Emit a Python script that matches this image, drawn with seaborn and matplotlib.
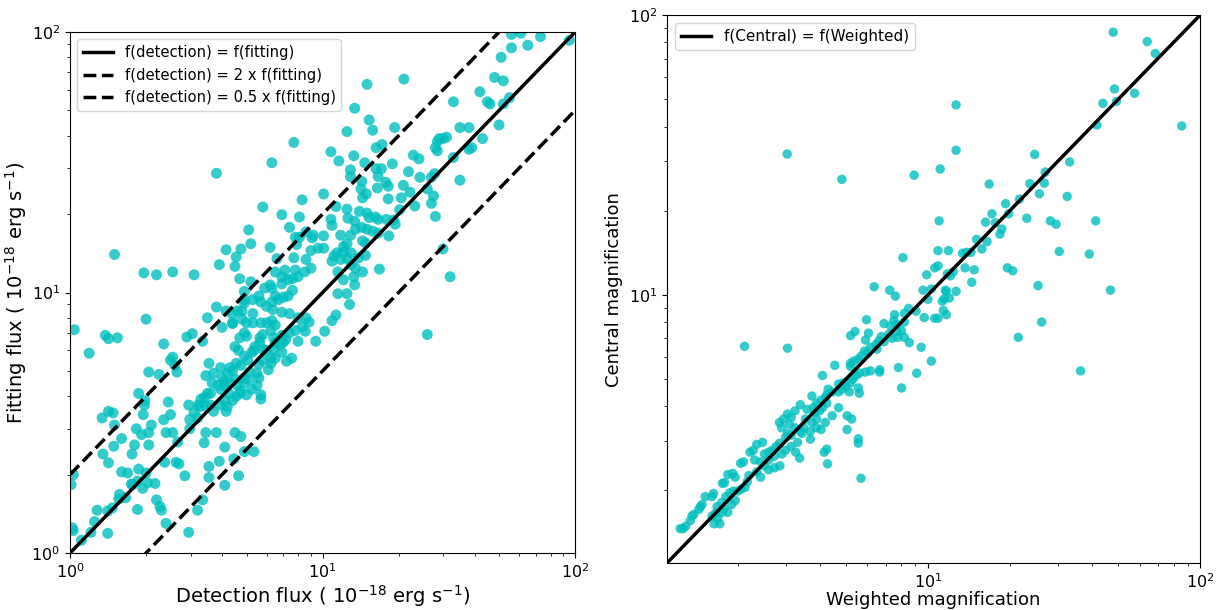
import matplotlib
matplotlib.use("Agg")
import matplotlib.pyplot as plt
import pandas as pd
import seaborn as sns

# ---------------- Left panel data ----------------
detection_flux = [
    56, 61, 73, 65, 95, 56, 51, 52, 48, 42,
    45, 46, 52, 55, 33, 50, 43, 35, 38, 38,
    39, 33, 35, 28.5, 29, 30, 31, 28, 28.5, 27.8,
    27, 26, 27.5, 27, 28, 30, 32, 26, 21, 15,
    13.4, 12.5, 15.3, 15.8, 19.3, 16.3, 17.2, 10.8, 13.3, 11.6,
    7.7, 6.3, 3.8, 12.9, 18.9, 21.9, 22.9, 24.1, 24.3, 20.9,
    22.2, 23.2, 20.2, 20.5, 14.9, 14.7, 16.3, 16.6, 17.1, 18.2,
    17.8, 16.5, 12.9, 14.3, 14.2, 14.4, 14.0, 15.0, 15.3, 16.2,
    16.6, 17.9, 19.1, 18.3, 19.4, 18.2, 10.1, 8.3, 5.8, 6.9,
    8.1, 7.4, 7.8, 11.3, 10.8, 10.9, 12.5, 11.8, 12.9, 12.6,
    13.4, 14.3, 15.0, 13.5, 14.4, 15.8, 16.6, 14.8, 14.8, 12.5,
    12.1, 13.0, 12.1, 11.4, 11.1, 10.9, 11.8, 11.5, 12.5, 13.0,
    13.5, 14.4, 16.8, 13.9, 13.3, 13.4, 12.8, 12.1, 12.5, 11.5,
    11.3, 10.9, 10.2, 9.4, 10.1, 10.1, 9.6, 9.2, 9.1, 8.6,
    8.1, 7.9, 8.6, 9.0, 7.7, 7.8, 9.0, 8.5, 8.0, 7.6,
    7.1, 6.9, 6.5, 6.2, 6.6, 6.9, 7.3, 7.6, 7.3, 7.0,
    6.7, 6.5, 6.3, 6.35, 6.0, 5.9, 6.3, 6.2, 5.7, 5.6,
    5.2, 5.3, 4.9, 4.9, 5.3, 4.8, 4.8, 4.6, 4.4, 5.0,
    5.3, 5.7, 6.0, 6.3, 6.5, 6.9, 7.4, 8.0, 8.6, 8.85,
    8.3, 7.8, 7.4, 6.9, 6.8, 7.0, 7.15, 6.25, 6.4, 6.5,
    6.8, 6.4, 6.5, 6.9, 7.55, 7.2, 8.0, 8.55, 5.8, 5.65,
    5.65, 5.4, 5.25, 5.0, 4.9, 4.7, 4.5, 4.65, 4.9, 5.05,
    5.35, 5.8, 6.0, 6.25, 6.25, 6.1, 5.8, 5.6, 5.5, 5.5,
    5.25, 5.15, 4.9, 4.75, 4.55, 4.4, 4.3, 4.2, 4.0, 3.95,
    4.1, 4.3, 4.5, 4.6, 4.9, 5.1, 5.6, 5.7, 5.7, 5.0,
    4.7, 4.25, 4.1, 3.95, 3.7, 3.55, 3.45, 3.65, 3.85, 3.6,
    3.5, 3.4, 3.3, 3.25, 3.45, 3.6, 3.7, 3.95, 4.1, 4.4,
    4.55, 4.75, 4.2, 4.15, 2.95, 3.2, 3.45, 3.8, 4.5, 4.75,
    3.4, 4.1, 4.45, 3.55, 3.9, 3.55, 4.65, 4.1, 3.35, 3.2,
    2.95, 2.85, 2.7, 5.35, 4.9, 1.5, 1.96, 2.2, 2.55, 3.1,
    3.9, 4.15, 4.5, 4.55, 4.75, 5.2, 5.1, 4.7, 4.9, 3.8,
    4.15, 4.4, 4.4, 4.0, 3.5, 3.35, 3.05, 2.9, 2.35, 2.55,
    2.6, 2.5, 2.65, 2.25, 2.05, 2.0, 1.38, 1.42, 1.54, 1.04,
    1.19, 1.87, 1.98, 1.97, 1.95, 2.45, 2.35, 2.5, 2.4, 2.55,
    2.1, 2.05, 1.92, 1.83, 1.8, 1.76, 2.05, 1.5, 1.6, 1.34,
    1.42, 1.48, 1.49, 1.35, 1.42, 1.6, 1.69, 1.87, 2.0, 2.03,
    1.94, 2.17, 2.37, 2.63, 1.75, 1.85, 1.85, 2.2, 2.27, 2.3, 2.4,
    2.67, 1.47, 1.41, 1.28, 1.25, 1.21, 1.11, 1.03, 1.02,
    1.01, 1.03, 1.41, 1.56, 1.66, 1.57, 1.77, 2.98, 2.98, 3.1, 3.22,
]
fitting_flux = [
    98, 99, 96, 89, 93, 87, 80, 65, 67, 59,
    54, 53, 53, 56, 54, 44, 39, 43, 43, 35.5,
    36, 33, 27, 38, 39, 39, 39.5, 36, 35, 28.6,
    27.7, 25, 23.5, 22, 19.6, 14.7, 11.5, 6.9, 66, 63,
    51, 41.5, 46, 42, 43, 36, 37, 34.7, 33.5, 32,
    37.7, 31.5, 28.7, 29.6, 31.2, 29.1, 33.7, 32.6, 27.7, 25.8,
    24.3, 21.5, 20.8, 23.1, 23.9, 31.5, 29.9, 27.9, 29.9, 25.6,
    26.5, 25.2, 27.9, 26.7, 25, 23.1, 20.5, 20.2, 19.4, 19.5,
    19.1, 19.1, 19.0, 16.5, 18.3, 22.9, 23.9, 22.7, 21.3, 19.9,
    19.5, 17.8, 16.3, 21.4, 19.1, 18.1, 20.9, 16.6, 16.6, 19.3,
    18.8, 17.8, 17.5, 17.5, 15.8, 17.2, 16.9, 15.5, 13.9, 15.4,
    15.0, 14.2, 14.3, 14.2, 13.8, 13.2, 13.4, 12.0, 13.5, 12.8,
    12.4, 12.0, 12.3, 13.6, 11.5, 10.7, 9.0, 11.2, 9.9, 9.9,
    8.2, 7.8, 7.1, 6.5, 16.5, 14.8, 14.8, 16.6, 16.2, 17.1,
    16.3, 15.3, 13.4, 14.5, 13.6, 12.2, 12.4, 12.0, 11.5, 11.3,
    12.2, 11.5, 12.0, 14.9, 13.5, 10.8, 11.2, 10.2, 9.7, 9.6,
    9.4, 9.7, 9.2, 8.6, 8.85, 10.4, 10.4, 10.7, 9.2, 9.7,
    11.0, 9.4, 9.4, 9.1, 8.3, 8.5, 7.9, 8.5, 7.65, 7.65,
    7.65, 7.65, 7.65, 7.8, 7.5, 8.4, 8.3, 8.0, 8.0, 7.7,
    7.4, 7.15, 7.0, 6.85, 6.55, 6.45, 6.6, 7.15, 6.7, 6.4,
    6.3, 6.05, 5.6, 5.9, 5.6, 5.45, 6.5, 7.1, 6.9, 6.7,
    6.45, 6.2, 5.9, 6.8, 7.0, 6.7, 6.2, 6.0, 5.7, 5.5,
    6.0, 6.05, 6.0, 5.6, 5.35, 5.05, 5.5, 5.3, 4.9, 4.4,
    4.25, 4.95, 4.7, 5.25, 5.35, 5.0, 5.15, 4.9, 4.7, 5.15,
    4.55, 4.5, 4.65, 4.4, 4.5, 4.65, 4.7, 4.05, 3.9, 4.05,
    4.1, 4.1, 4.4, 4.25, 4.9, 5.35, 4.8, 4.5, 4.4, 4.1,
    4.1, 3.95, 3.9, 3.65, 3.65, 3.7, 3.5, 3.7, 3.85, 3.85,
    4.0, 4.2, 3.65, 3.5, 3.7, 3.3, 2.9, 2.9, 2.9, 2.8,
    2.65, 2.55, 2.3, 2.15, 2.25, 1.95, 1.98, 1.82, 1.6, 1.46,
    1.2, 1.98, 2.2, 2.45, 2.45, 14.0, 11.9, 11.7, 12.0, 11.7,
    12.8, 14.6, 12.6, 13.7, 14.7, 15.4, 17.4, 11.3, 10.1, 8.8,
    8.5, 8.25, 7.6, 7.35, 8.0, 6.5, 6.95, 6.75, 6.35, 5.65,
    5.25, 5.5, 4.95, 4.85, 4.95, 7.9, 6.85, 6.65, 6.7, 7.2,
    5.85, 4.1, 3.85, 3.7, 3.4, 3.8, 3.25, 3.4, 2.9, 2.9,
    3.1, 2.9, 2.85, 3.0, 2.6, 2.4, 2.6, 3.1, 2.75, 3.3,
    3.5, 3.45, 2.57, 2.4, 2.22, 2.05, 2.03, 2.1, 2.03, 1.86,
    1.77, 1.85, 2.23, 2.23, 1.84, 1.89, 1.47, 1.6, 1.51, 1.46, 1.3,
    2.67, 1.49, 1.45, 1.46, 1.32, 1.2, 1.12, 1.22, 1.25,
    1.83, 2.0, 1.19, 1.61, 1.63, 1.68, 1.83, 3.0, 3.26, 3.47, 3.7,
]

# ---------------- Right panel data ----------------
weighted_mag = [
    48, 64, 68.5, 48.5, 57.5, 44, 49.3, 41.8, 85.7, 12.7,
    12.7, 3.04, 4.83, 8.9, 11.1, 24.7, 33.2, 27.0, 16.8, 23.7,
    26.8, 25.7, 32.5, 21.7, 19.3, 19.8, 17.2, 23.1, 11.0, 16.3,
    17.7, 28.2, 29.6, 41.4, 18.7, 18.4, 15.1, 16.5, 15.8, 30.4,
    39.2, 10.9, 11.9, 13.4, 13.9, 14.4, 8.1, 13.7, 14.8, 19.6,
    20.5, 10.6, 10.9, 9.9, 14.5, 12.4, 11.8, 12.1, 6.35, 7.24,
    7.6, 9.6, 10.3, 11.6, 11.7, 12.7, 11.5, 12.0, 11.3, 10.0,
    25.4, 46.9, 8.5, 8.2, 7.55, 9.05, 9.7, 10.6, 10.9, 11.7,
    11.4, 7.5, 7.7, 8.2, 5.95, 6.9, 26.2, 7.3, 7.7, 8.0,
    7.2, 5.4, 5.2, 6.05, 6.75, 6.9, 6.6, 6.45, 6.15, 6.5,
    7.4, 7.75, 8.2, 8.55, 9.45, 21.5, 2.12, 3.05, 5.9, 5.85,
    6.0, 5.7, 5.55, 5.35, 5.2, 5.2, 10.3, 6.65, 6.65, 6.15,
    5.9, 5.6, 5.45, 5.3, 5.2, 5.0, 4.85, 4.9, 4.7, 4.55,
    4.1, 7.8, 9.1, 8.0, 36.4, 5.55, 5.6, 5.15, 4.7, 4.45,
    4.3, 4.25, 4.2, 4.05, 3.9, 3.8, 3.75, 4.0, 4.1, 4.25,
    4.7, 4.45, 4.2, 4.05, 3.75, 3.55, 3.4, 3.25, 3.15, 3.05,
    2.95, 2.85, 2.9, 3.1, 3.25, 3.4, 3.5, 3.6, 3.85, 3.9,
    5.05, 5.25, 5.05, 3.9, 3.7, 3.7, 3.45, 3.15, 3.05, 3.0,
    2.85, 2.77, 2.68, 2.6, 2.51, 2.47, 2.35, 2.28, 2.22, 2.31,
    2.43, 2.6, 2.73, 2.91, 3.0, 3.14, 3.27, 3.38, 3.32, 5.55,
    5.55, 4.25, 4.16, 4.28, 5.68, 2.86, 2.73, 2.6, 2.51, 2.43,
    2.35, 2.2, 2.1, 2.05, 1.96, 1.92, 1.84, 1.79, 1.76, 2.17,
    2.13, 2.06, 2.0, 1.93, 1.87, 1.81, 1.75, 1.9, 1.96, 1.84,
    1.75, 1.68, 1.63, 1.61, 1.52, 1.48, 1.46, 1.44, 1.38, 1.36,
    1.34, 1.29, 1.26, 1.23, 1.64, 1.72, 1.69, 1.61, 1.66, 1.78,
]
central_mag = [
    87, 80.5, 73, 54.5, 52.6, 48.4, 49.2, 40.5, 40.2, 47.8,
    32.9, 31.9, 25.9, 26.8, 28.2, 31.8, 29.9, 27.5, 24.9, 25.0,
    25.1, 23.0, 22.5, 22.0, 21.2, 19.5, 19.5, 18.8, 18.4, 18.2,
    18.1, 18.4, 17.9, 18.4, 17.2, 16.5, 15.8, 15.5, 14.6, 14.3,
    14.0, 14.4, 14.4, 14.1, 14.2, 14.2, 13.6, 12.5, 12.3, 12.5,
    12.2, 12.5, 12.7, 11.8, 11.1, 12.1, 11.9, 11.7, 10.7, 10.4,
    9.9, 10.4, 10.5, 10.4, 10.3, 10.3, 9.7, 9.75, 9.5, 9.65,
    10.8, 10.4, 8.95, 8.6, 8.5, 8.75, 8.3, 8.25, 8.25, 8.5,
    8.8, 8.1, 7.85, 8.0, 8.15, 7.9, 8.0, 7.75, 7.4, 7.45,
    7.25, 7.4, 7.15, 7.3, 7.1, 6.8, 6.85, 6.65, 6.5, 6.4,
    7.0, 7.05, 7.05, 6.75, 6.5, 7.05, 6.55, 6.45, 6.9, 6.3,
    6.2, 6.05, 5.9, 5.8, 5.7, 5.55, 5.8, 5.4, 5.3, 5.35,
    5.3, 5.25, 5.15, 5.0, 4.85, 4.7, 4.6, 4.85, 4.8, 5.6,
    5.15, 5.5, 5.25, 4.65, 5.35, 4.65, 4.45, 4.5, 4.5, 4.5,
    4.6, 4.4, 4.3, 4.2, 4.1, 3.95, 4.35, 3.85, 3.95, 4.1,
    3.95, 3.7, 3.5, 3.3, 3.5, 3.6, 4.05, 3.85, 3.65, 3.75,
    3.6, 3.5, 3.35, 3.45, 3.35, 3.25, 3.35, 3.9, 3.8, 3.6,
    3.7, 3.6, 3.3, 3.35, 3.25, 3.05, 3.2, 3.15, 3.2, 3.1,
    2.95, 2.87, 2.78, 2.74, 2.7, 2.97, 2.92, 2.78, 2.74, 2.57,
    2.53, 2.57, 2.65, 2.7, 2.78, 2.87, 2.74, 2.61, 2.97, 3.06,
    2.95, 2.81, 2.74, 2.49, 2.21, 2.45, 2.41, 2.37, 2.45, 2.23,
    2.33, 2.26, 2.53, 2.5, 2.23, 2.3, 2.28, 2.13, 2.12, 2.15,
    2.05, 2.02, 1.99, 1.99, 1.96, 1.9, 1.81, 1.78, 1.84, 1.67,
    1.67, 1.75, 1.95, 1.9, 1.9, 1.78, 1.75, 1.71, 1.64, 1.62,
    1.56, 1.49, 1.46, 1.46, 1.52, 1.52, 1.59, 1.62, 1.66, 1.72,
]

# reference lines
ref_x = [1, 100]
ratio_factors = [1, 2, 0.5]
ratio_labels = ["f(detection) = f(fitting)",
                "f(detection) = 2 x f(fitting)",
                "f(detection) = 0.5 x f(fitting)"]
ratio_styles = ["-", "--", "--"]
mag_ref = [1.1, 100]
mag_label = "f(Central) = f(Weighted)"

fig = plt.figure(figsize=(12.18, 6.10), dpi=100)
ax1 = fig.add_axes([0.0575, 0.0934, 0.4146, 0.854])
ax2 = fig.add_axes([0.5476, 0.077, 0.4376, 0.898])

# ----- left -----
left_df = pd.DataFrame({"det": detection_flux, "fit": fitting_flux})
sns.scatterplot(data=left_df, x="det", y="fit", ax=ax1, color="c",
                s=62, alpha=0.8, edgecolor="none", linewidth=0, zorder=1)
for fac, lab, ls in zip(ratio_factors, ratio_labels, ratio_styles):
    ax1.plot(ref_x, [v * fac for v in ref_x], color="k", ls=ls, lw=2.5,
             label=lab, zorder=3)
ax1.set_xscale("log")
ax1.set_yscale("log")
ax1.set_xlim(1, 100)
ax1.set_ylim(1, 100)
ax1.set_xlabel("Detection flux ( $10^{-18}$ erg s$^{-1}$)", fontsize=14, labelpad=1)
ax1.set_ylabel("Fitting flux ( $10^{-18}$ erg s$^{-1}$)", fontsize=14, labelpad=2)
ax1.tick_params(labelsize=11.5)
ax1.legend(loc="upper left", fontsize=10.6)

# ----- right -----
right_df = pd.DataFrame({"w": weighted_mag, "c": central_mag})
sns.scatterplot(data=right_df, x="w", y="c", ax=ax2, color="c",
                s=46, alpha=0.8, edgecolor="none", linewidth=0, zorder=1)
ax2.plot(mag_ref, mag_ref, color="k", ls="-", lw=2.5, label=mag_label, zorder=3)
ax2.set_xscale("log")
ax2.set_yscale("log")
ax2.set_xlim(1.1, 100)
ax2.set_ylim(1.1, 100)
ax2.set_xlabel("Weighted magnification", fontsize=13, labelpad=0)
ax2.set_ylabel("Central magnification", fontsize=13)
ax2.tick_params(labelsize=11.5)
ax2.legend(loc="upper left", fontsize=11)

fig.savefig("out.png", dpi=100)
